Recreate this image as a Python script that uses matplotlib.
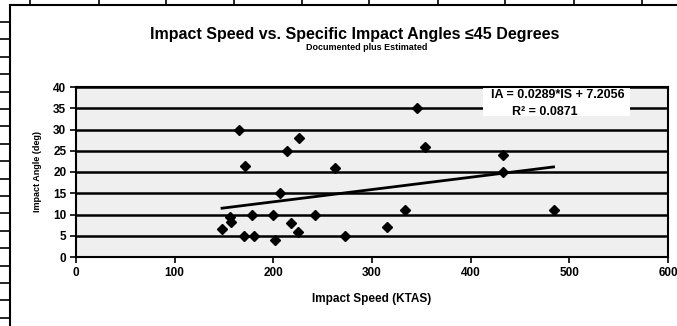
import numpy as np
import matplotlib.pyplot as plt
from matplotlib.patches import Rectangle

plt.rcParams['font.family'] = ['Liberation Sans', 'DejaVu Sans']

# impact speed (KTAS) and impact angle (deg)
speed = [165, 226, 214, 171, 262, 207, 178, 200, 242, 156, 157, 148, 218,
         225, 170, 180, 202, 273, 346, 354, 433, 433, 333, 484, 315]
angle = [30, 28, 25, 21.5, 21, 15, 10, 10, 10, 9.3, 8.3, 6.6, 8,
         6, 5, 5, 4, 5, 35, 26, 24, 20, 11, 11, 7]

# linear trend as printed on the chart
slope = 0.0289
intercept = 7.2056
r_squared = 0.0871

x_ticks = [0, 100, 200, 300, 400, 500, 600]
y_ticks = [0, 5, 10, 15, 20, 25, 30, 35, 40]

W, H = 677, 326
fig = plt.figure(figsize=(W / 100, H / 100), dpi=100)

# scanned page frame (ruler marks on top and left)
fig.add_artist(plt.Line2D([10 / W, 1], [1 - 5 / H, 1 - 5 / H], color='black', lw=1.5))
fig.add_artist(plt.Line2D([10 / W, 10 / W], [0, 1 - 5 / H], color='black', lw=1.5))
for px in [30, 99, 166, 234, 302, 369, 438, 505, 574, 642]:
    fig.add_artist(plt.Line2D([px / W, px / W], [1 - 5 / H, 1], color='black', lw=1.2))
for py in np.arange(22, 326, 17.4):
    fig.add_artist(plt.Line2D([0, 10 / W], [1 - py / H, 1 - py / H], color='black', lw=1.2))

ax = fig.add_axes([76 / W, 1 - 257 / H, (668 - 76) / W, (257 - 87) / H])
ax.set_facecolor('#efefef')
ax.set_xlim(0, 600)
ax.set_ylim(0, 40)
ax.set_xticks(x_ticks)
ax.set_yticks(y_ticks)
ax.grid(axis='y', color='black', lw=1.8)
ax.set_axisbelow(True)
for s in ax.spines.values():
    s.set_linewidth(1.5)
ax.tick_params(direction='out', length=4, width=1.2, labelsize=8.5, pad=3)
for lab in ax.get_xticklabels() + ax.get_yticklabels():
    lab.set_fontweight('bold')

# equation label box
ax.add_patch(Rectangle((412, 33.2), 149, 6.6, facecolor='white', edgecolor='none', zorder=2))

ax.plot(speed, angle, 'D', color='black', ms=5.5, zorder=4)
xs = np.array([min(speed), max(speed)])
ax.plot(xs, slope * xs + intercept, color='black', lw=2, zorder=3)

ax.text(488, 38.1, f'IA = {slope}*IS + {intercept}', ha='center', va='center',
        fontsize=9, fontweight='bold', zorder=5,
        bbox=dict(facecolor='white', edgecolor='none', pad=1))
ax.text(475, 34.1, f'R² = {r_squared}', ha='center', va='center',
        fontsize=9, fontweight='bold', zorder=5)

ax.set_xlabel('Impact Speed (KTAS)', fontsize=8.5, fontweight='bold', labelpad=10)
ax.set_ylabel('Impact Angle (deg)', fontsize=6.5, fontweight='bold', labelpad=8)

fig.text(355 / W, 1 - 34 / H, 'Impact Speed vs. Specific Impact Angles ≤45 Degrees',
         ha='center', va='center', fontsize=11.5, fontweight='bold')
fig.text(367 / W, 1 - 47 / H, 'Documented plus Estimated',
         ha='center', va='center', fontsize=6.5, fontweight='bold')

fig.savefig('out.png', dpi=100)
